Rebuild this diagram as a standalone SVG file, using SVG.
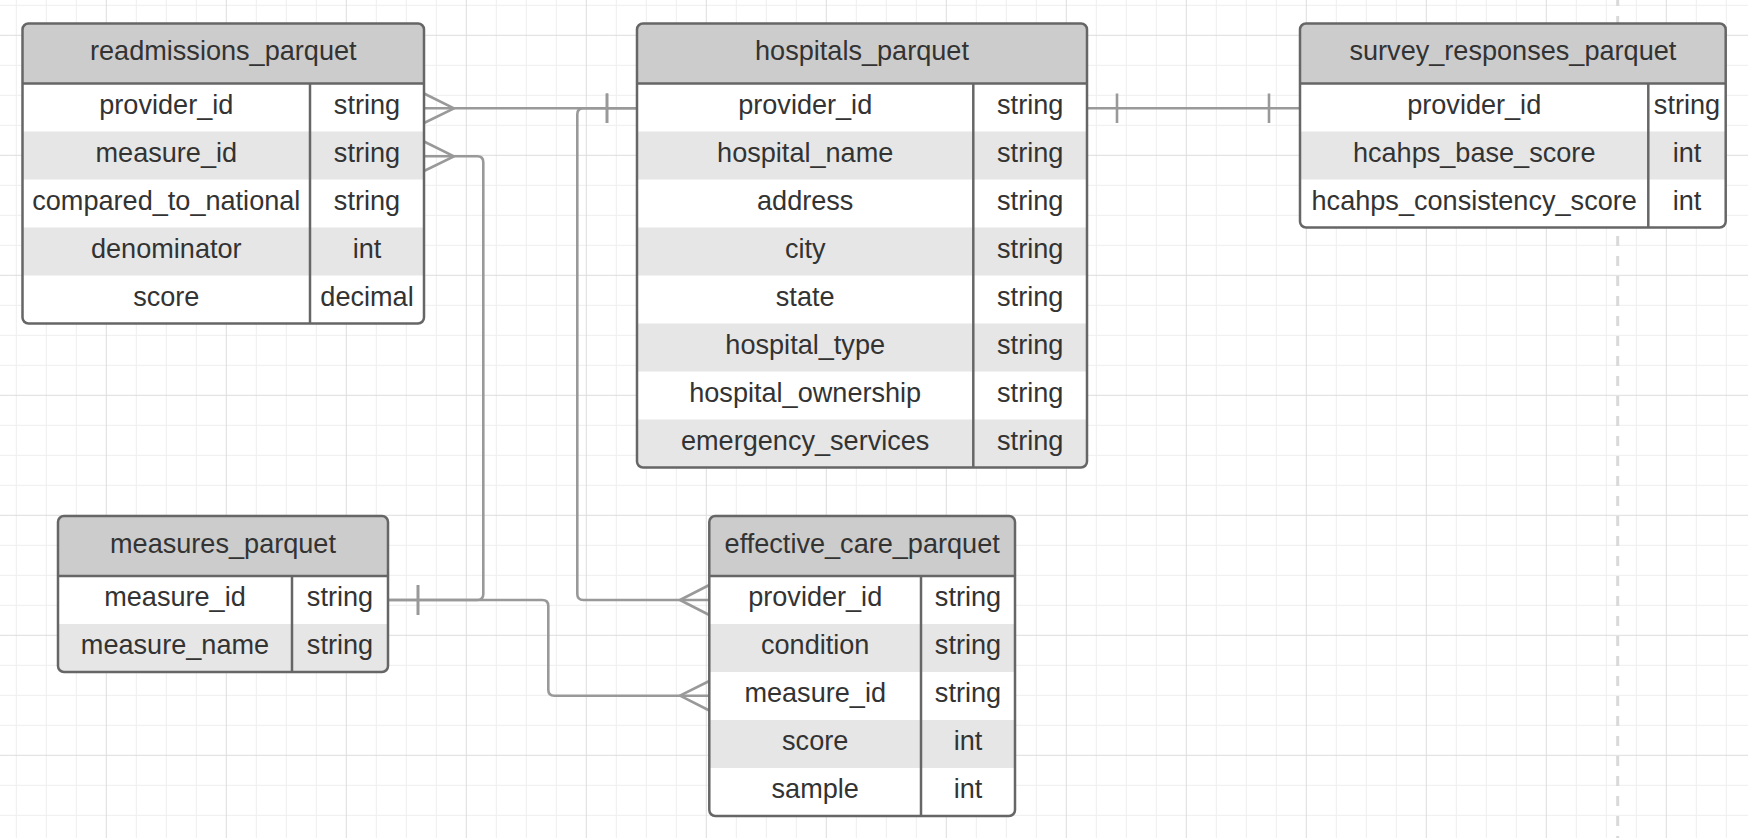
<svg xmlns="http://www.w3.org/2000/svg" width="1748" height="838" viewBox="0 0 1748 838">
<style>
.frame{fill:none;stroke:#666;stroke-width:2.5}
.sep{stroke:#666;stroke-width:2.5}
.hdr{fill:#ccc}
.alt{fill:#e6e6e6}
.bg{fill:#fff}
.t{font-family:"Liberation Sans",Arial,sans-serif;font-size:27.1px;fill:#333;text-anchor:middle}
.ln{fill:none;stroke:#999;stroke-width:2.6;stroke-linejoin:round;stroke-linecap:butt}
</style>
<defs>
<pattern id="grid" patternUnits="userSpaceOnUse" x="105.8" y="34.8" width="120" height="120">
<rect x="30" y="0" width="1" height="120" fill="#eeeeee"/>
<rect x="60" y="0" width="1" height="120" fill="#eeeeee"/>
<rect x="90" y="0" width="1" height="120" fill="#eeeeee"/>
<rect x="0" y="30" width="120" height="1" fill="#eeeeee"/>
<rect x="0" y="60" width="120" height="1" fill="#eeeeee"/>
<rect x="0" y="90" width="120" height="1" fill="#eeeeee"/>
<rect x="0" y="0" width="1" height="120" fill="#dddddd"/>
<rect x="0" y="0" width="120" height="1" fill="#dddddd"/>
</pattern>
<clipPath id="cp-read"><rect x="22.5" y="23.5" width="401.5" height="300" rx="6"/></clipPath>
<clipPath id="cp-hosp"><rect x="637" y="23.5" width="450" height="444" rx="6"/></clipPath>
<clipPath id="cp-surv"><rect x="1300" y="23.5" width="425.7" height="204" rx="6"/></clipPath>
<clipPath id="cp-meas"><rect x="58" y="516" width="330" height="156" rx="6"/></clipPath>
<clipPath id="cp-eff"><rect x="709.3" y="516" width="305.7" height="300" rx="6"/></clipPath>
</defs>
<rect width="1748" height="838" fill="#fff"/>
<rect width="1748" height="838" fill="url(#grid)"/>
<line x1="1617.7" y1="0" x2="1617.7" y2="838" stroke="#d9d9d9" stroke-width="3" stroke-dasharray="10 10" stroke-dashoffset="4"/>

<g id="connectors">
<g id="c-readm-hosp">
<path class="ln" d="M424,108.3 H637"/>
<path class="ln" d="M424,93.5 L454,108.3 L424,123"/>
<path class="ln" d="M607,93.5 V123"/>
</g>
<g id="c-hosp-survey">
<path class="ln" d="M1087,108.3 H1300"/>
<path class="ln" d="M1117,93.5 V123"/>
<path class="ln" d="M1269,93.5 V123"/>
</g>
<g id="c-readm-meas">
<path class="ln" d="M424,156.3 H477.3 Q483.3,156.3 483.3,162.3 V594 Q483.3,600 477.3,600 H388"/>
<path class="ln" d="M424,141.5 L454,156.3 L424,171"/>
<path class="ln" d="M418,585 V615"/>
</g>
<g id="c-hosp-eff">
<path class="ln" d="M637,108.3 H583.3 Q577.3,108.3 577.3,114.3 V594 Q577.3,600 583.3,600 H709.3"/>
<path class="ln" d="M607,93.5 V123"/>
<path class="ln" d="M709.3,585 L680,600 L709.3,615"/>
</g>
<g id="c-meas-eff">
<path class="ln" d="M388,600 H542.3 Q548.3,600 548.3,606 V689.7 Q548.3,695.7 554.3,695.7 H709.3"/>
<path class="ln" d="M418,585 V615"/>
<path class="ln" d="M709.3,681 L680,695.7 L709.3,710.5"/>
</g>
</g>

<g id="readmissions_parquet">
<rect class="bg" x="22.5" y="23.5" width="401.5" height="300" rx="6"/>
<g clip-path="url(#cp-read)">
<rect class="hdr" x="22.5" y="23.5" width="401.5" height="60"/>
<rect class="alt" x="22.5" y="131.5" width="401.5" height="48"/>
<rect class="alt" x="22.5" y="227.5" width="401.5" height="48"/>
</g>
<line class="sep" x1="22.5" y1="83.5" x2="424" y2="83.5"/>
<line class="sep" x1="310" y1="83.5" x2="310" y2="323.5"/>
<rect class="frame" x="22.5" y="23.5" width="401.5" height="300" rx="6"/>
<text class="t" x="223.3" y="60">readmissions_parquet</text>
<text class="t" x="166.3" y="113.7">provider_id</text><text class="t" x="367" y="113.7">string</text>
<text class="t" x="166.3" y="161.7">measure_id</text><text class="t" x="367" y="161.7">string</text>
<text class="t" x="166.3" y="209.7">compared_to_national</text><text class="t" x="367" y="209.7">string</text>
<text class="t" x="166.3" y="257.7">denominator</text><text class="t" x="367" y="257.7">int</text>
<text class="t" x="166.3" y="305.7">score</text><text class="t" x="367" y="305.7">decimal</text>
</g>

<g id="hospitals_parquet">
<rect class="bg" x="637" y="23.5" width="450" height="444" rx="6"/>
<g clip-path="url(#cp-hosp)">
<rect class="hdr" x="637" y="23.5" width="450" height="60"/>
<rect class="alt" x="637" y="131.5" width="450" height="48"/>
<rect class="alt" x="637" y="227.5" width="450" height="48"/>
<rect class="alt" x="637" y="323.5" width="450" height="48"/>
<rect class="alt" x="637" y="419.5" width="450" height="48"/>
</g>
<line class="sep" x1="637" y1="83.5" x2="1087" y2="83.5"/>
<line class="sep" x1="973.3" y1="83.5" x2="973.3" y2="467.5"/>
<rect class="frame" x="637" y="23.5" width="450" height="444" rx="6"/>
<text class="t" x="862" y="60">hospitals_parquet</text>
<text class="t" x="805.2" y="113.7">provider_id</text><text class="t" x="1030.2" y="113.7">string</text>
<text class="t" x="805.2" y="161.7">hospital_name</text><text class="t" x="1030.2" y="161.7">string</text>
<text class="t" x="805.2" y="209.7">address</text><text class="t" x="1030.2" y="209.7">string</text>
<text class="t" x="805.2" y="257.7">city</text><text class="t" x="1030.2" y="257.7">string</text>
<text class="t" x="805.2" y="305.7">state</text><text class="t" x="1030.2" y="305.7">string</text>
<text class="t" x="805.2" y="353.7">hospital_type</text><text class="t" x="1030.2" y="353.7">string</text>
<text class="t" x="805.2" y="401.7">hospital_ownership</text><text class="t" x="1030.2" y="401.7">string</text>
<text class="t" x="805.2" y="449.7">emergency_services</text><text class="t" x="1030.2" y="449.7">string</text>
</g>

<g id="survey_responses_parquet">
<rect class="bg" x="1300" y="23.5" width="425.7" height="204" rx="6"/>
<g clip-path="url(#cp-surv)">
<rect class="hdr" x="1300" y="23.5" width="425.7" height="60"/>
<rect class="alt" x="1300" y="131.5" width="425.7" height="48"/>
</g>
<line class="sep" x1="1300" y1="83.5" x2="1725.7" y2="83.5"/>
<line class="sep" x1="1648.3" y1="83.5" x2="1648.3" y2="227.5"/>
<rect class="frame" x="1300" y="23.5" width="425.7" height="204" rx="6"/>
<text class="t" x="1512.9" y="60">survey_responses_parquet</text>
<text class="t" x="1474.2" y="113.7">provider_id</text><text class="t" x="1687" y="113.7">string</text>
<text class="t" x="1474.2" y="161.7">hcahps_base_score</text><text class="t" x="1687" y="161.7">int</text>
<text class="t" x="1474.2" y="209.7">hcahps_consistency_score</text><text class="t" x="1687" y="209.7">int</text>
</g>

<g id="measures_parquet">
<rect class="bg" x="58" y="516" width="330" height="156" rx="6"/>
<g clip-path="url(#cp-meas)">
<rect class="hdr" x="58" y="516" width="330" height="60"/>
<rect class="alt" x="58" y="624" width="330" height="48"/>
</g>
<line class="sep" x1="58" y1="576" x2="388" y2="576"/>
<line class="sep" x1="292" y1="576" x2="292" y2="672"/>
<rect class="frame" x="58" y="516" width="330" height="156" rx="6"/>
<text class="t" x="223" y="552.5">measures_parquet</text>
<text class="t" x="175" y="606.2">measure_id</text><text class="t" x="340" y="606.2">string</text>
<text class="t" x="175" y="654.2">measure_name</text><text class="t" x="340" y="654.2">string</text>
</g>

<g id="effective_care_parquet">
<rect class="bg" x="709.3" y="516" width="305.7" height="300" rx="6"/>
<g clip-path="url(#cp-eff)">
<rect class="hdr" x="709.3" y="516" width="305.7" height="60"/>
<rect class="alt" x="709.3" y="624" width="305.7" height="48"/>
<rect class="alt" x="709.3" y="720" width="305.7" height="48"/>
</g>
<line class="sep" x1="709.3" y1="576" x2="1015" y2="576"/>
<line class="sep" x1="921" y1="576" x2="921" y2="816"/>
<rect class="frame" x="709.3" y="516" width="305.7" height="300" rx="6"/>
<text class="t" x="862.2" y="552.5">effective_care_parquet</text>
<text class="t" x="815.2" y="606.2">provider_id</text><text class="t" x="968" y="606.2">string</text>
<text class="t" x="815.2" y="654.2">condition</text><text class="t" x="968" y="654.2">string</text>
<text class="t" x="815.2" y="702.2">measure_id</text><text class="t" x="968" y="702.2">string</text>
<text class="t" x="815.2" y="750.2">score</text><text class="t" x="968" y="750.2">int</text>
<text class="t" x="815.2" y="798.2">sample</text><text class="t" x="968" y="798.2">int</text>
</g>
</svg>
